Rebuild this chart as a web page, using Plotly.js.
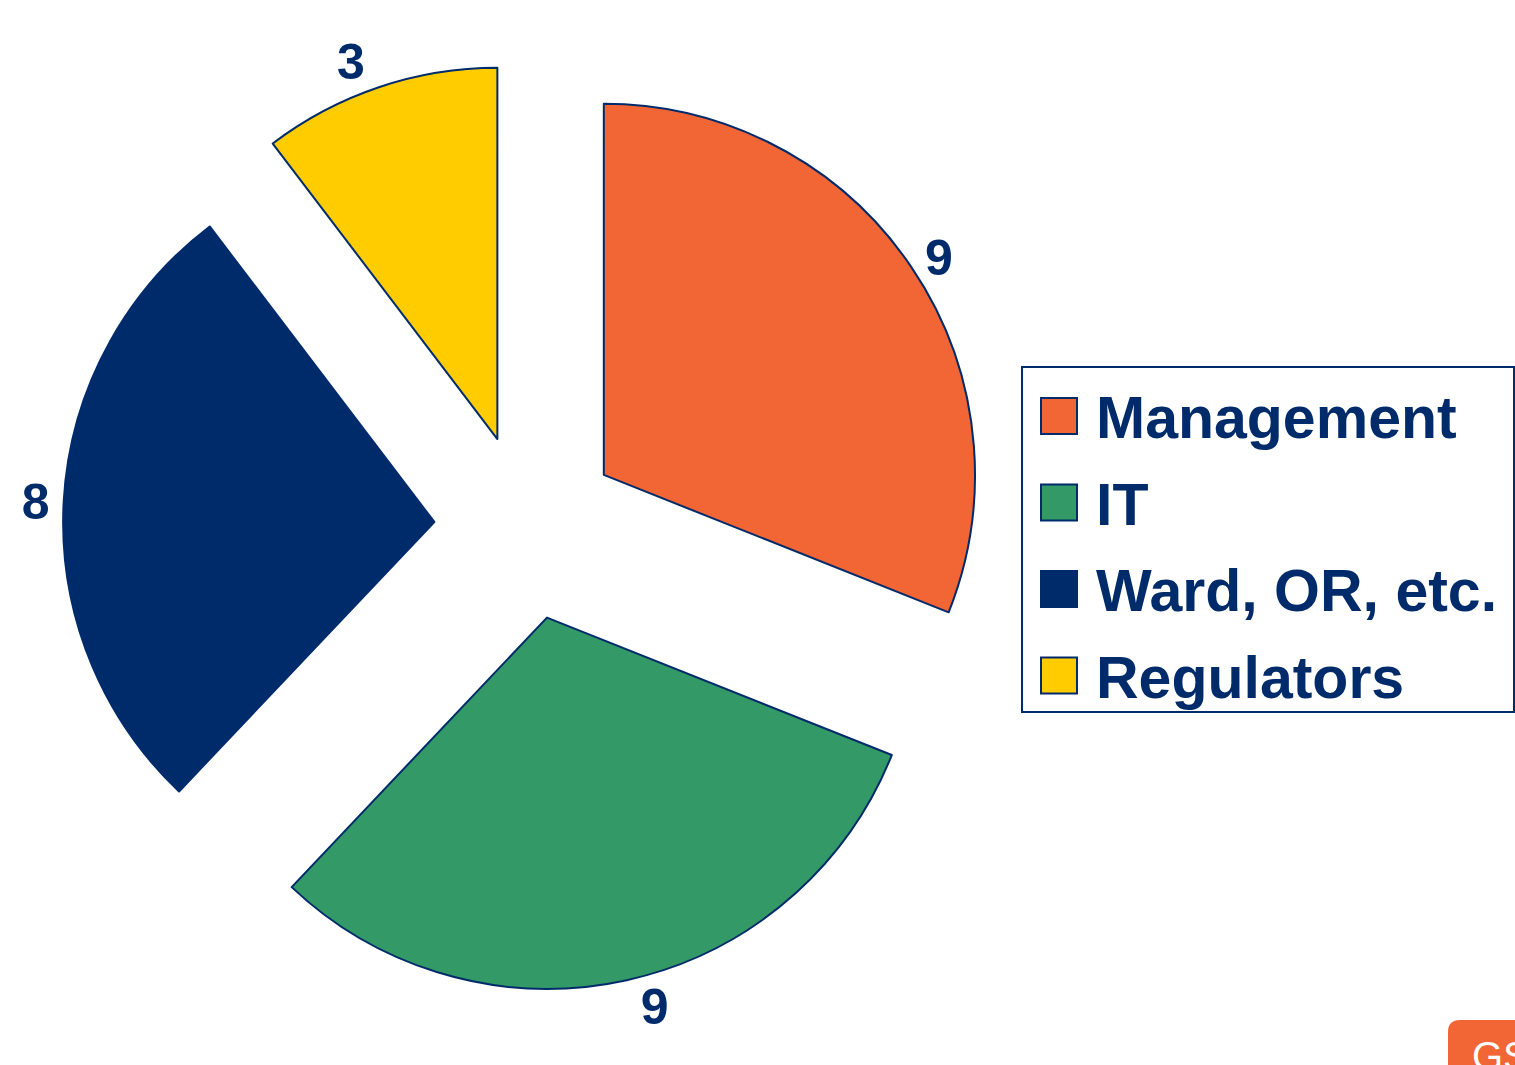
<!DOCTYPE html>
<html>
<head>
<meta charset="utf-8">
<script src="https://cdn.plot.ly/plotly-3.0.1.min.js"></script>
<style>
  html, body { margin: 0; padding: 0; background: #ffffff; }
  #chart { width: 1515px; height: 1065px; }
</style>
</head>
<body>
<div id="chart"></div>
<script>
// ---- data ----
const categories = ["Management", "IT", "Ward, OR, etc.", "Regulators"];
const values = [9, 9, 8, 3];
const sliceColors = ["#F26535", "#339966", "#002B6B", "#FFCC00"];

// ---- styling ----
const NAVY = "#002B6B";
const W = 1515, H = 1065;
const M = { l: 0, r: 0, t: 63, b: 74 };
const plotH = H - M.t - M.b;
const px2x = px => px / W;
const py2y = py => (H - M.b - py) / plotH;

const trace = {
  type: "pie",
  labels: categories,
  values: values,
  sort: false,
  direction: "clockwise",
  rotation: 0,
  pull: 0.25,
  marker: { colors: sliceColors, line: { color: NAVY, width: 2 } },
  textinfo: "value",
  textposition: "outside",
  textfont: { family: "Liberation Sans, Arial, sans-serif", size: 50, color: NAVY, weight: "bold" },
  showlegend: false,
  hoverinfo: "label+value",
  domain: { x: [px2x(527 - 464), px2x(527 + 464)], y: [0, 1] }
};

// ---- legend (built from the data arrays) ----
const shapes = [];
const annotations = [];
shapes.push({
  type: "rect", xref: "paper", yref: "paper",
  x0: px2x(1022), x1: px2x(1514), y0: py2y(712), y1: py2y(367),
  line: { color: NAVY, width: 2 }, fillcolor: "rgba(0,0,0,0)"
});
const rowTop = 416, rowStep = 86.5, sq = 36;
categories.forEach((c, i) => {
  const cy = rowTop + i * rowStep;
  shapes.push({
    type: "rect", xref: "paper", yref: "paper",
    x0: px2x(1041), x1: px2x(1041 + sq), y0: py2y(cy + sq / 2), y1: py2y(cy - sq / 2),
    fillcolor: sliceColors[i], line: { color: NAVY, width: 2 }
  });
  annotations.push({
    xref: "paper", yref: "paper",
    x: px2x(1094), y: py2y(cy + 2),
    xanchor: "left", yanchor: "middle",
    text: c, showarrow: false,
    font: { family: "Liberation Sans, Arial, sans-serif", size: 59, color: NAVY, weight: "bold" }
  });
});

// ---- corner logo fragment ----
shapes.push({
  type: "path", xref: "paper", yref: "paper",
  path: (() => {
    const x0 = 1448, y0 = 1020, x1 = 1530, y1 = 1080, rr = 12;
    const X = px2x, Y = py2y;
    return `M ${X(x0 + rr)} ${Y(y0)} L ${X(x1)} ${Y(y0)} L ${X(x1)} ${Y(y1)} L ${X(x0)} ${Y(y1)} L ${X(x0)} ${Y(y0 + rr)} Q ${X(x0)} ${Y(y0)} ${X(x0 + rr)} ${Y(y0)} Z`;
  })(),
  fillcolor: "#F26535", line: { width: 0 }
});
annotations.push({
  xref: "paper", yref: "paper", x: px2x(1470), y: py2y(1032),
  xanchor: "left", yanchor: "top", text: "GS", showarrow: false,
  font: { family: "Liberation Sans, Arial, sans-serif", size: 40, color: "#ffffff" }
});

const layout = {
  width: W, height: H,
  margin: M,
  paper_bgcolor: "#ffffff",
  plot_bgcolor: "#ffffff",
  showlegend: false,
  shapes: shapes,
  annotations: annotations
};

Plotly.newPlot("chart", [trace], layout, { displayModeBar: false, staticPlot: true });
</script>
</body>
</html>
